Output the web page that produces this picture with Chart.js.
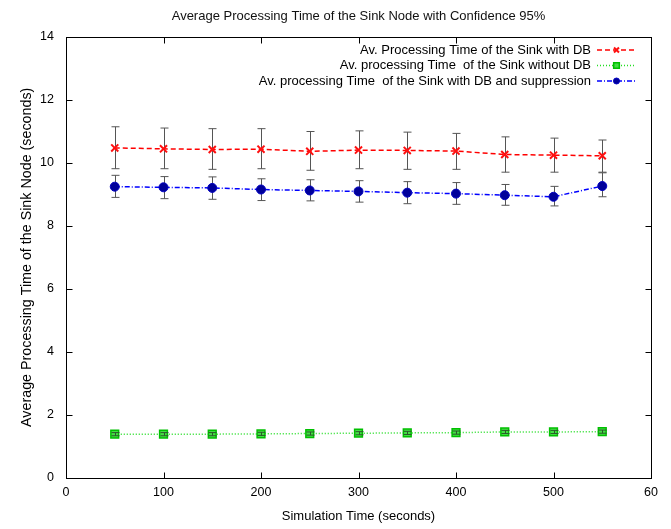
<!DOCTYPE html>
<html>
<head>
<meta charset="utf-8">
<script src="https://cdn.jsdelivr.net/npm/chart.js@4/dist/chart.umd.min.js"></script>
<style>
  html, body { margin: 0; padding: 0; background: #fff; }
  canvas { display: block; }
</style>
</head>
<body>
<canvas id="sinkChart" width="671" height="529"></canvas>
<script>
// Simulation times (x) and tick labels as they appear on the picture
const simTimes = [50, 100, 150, 200, 250, 300, 350, 400, 450, 500, 550];
const xTickLabels = ['0', '100', '200', '300', '400', '500', '60'];

// Av. Processing Time of the Sink with DB
const withDb = [10.47, 10.44, 10.42, 10.43, 10.36, 10.40, 10.39, 10.37, 10.26, 10.24, 10.22];
const withDbLow = [9.81, 9.81, 9.79, 9.81, 9.76, 9.81, 9.79, 9.79, 9.70, 9.70, 9.70];
const withDbHigh = [11.14, 11.10, 11.08, 11.08, 10.99, 11.01, 10.97, 10.93, 10.82, 10.78, 10.72];

// Av. processing Time of the Sink without DB
const withoutDb = [1.39, 1.39, 1.39, 1.40, 1.41, 1.42, 1.43, 1.44, 1.46, 1.46, 1.47];
const withoutDbLow = [1.34, 1.34, 1.34, 1.35, 1.36, 1.37, 1.38, 1.39, 1.41, 1.41, 1.42];
const withoutDbHigh = [1.44, 1.44, 1.44, 1.45, 1.46, 1.47, 1.48, 1.49, 1.51, 1.51, 1.52];

// Av. processing Time of the Sink with DB and suppression
const suppression = [9.24, 9.22, 9.20, 9.15, 9.12, 9.09, 9.05, 9.02, 8.97, 8.92, 9.26];
const suppressionLow = [8.90, 8.86, 8.84, 8.80, 8.79, 8.75, 8.70, 8.68, 8.65, 8.63, 8.92];
const suppressionHigh = [9.60, 9.56, 9.55, 9.49, 9.46, 9.43, 9.40, 9.37, 9.31, 9.25, 9.68];

const FONT = '"Liberation Sans", Arial, Helvetica, sans-serif';
Chart.defaults.font.family = FONT;
Chart.defaults.color = '#000';

function points(ys) {
    return simTimes.map((x, i) => ({ x: x, y: ys[i] }));
}

function drawBars(chart, ds, color) {
    const ctx = chart.ctx;
    const xs = chart.scales.x, ys = chart.scales.y;
    ctx.save();
    ctx.strokeStyle = color;
    ctx.lineWidth = 1;
    ds.low.forEach((lo, i) => {
        const px = Math.round(xs.getPixelForValue(simTimes[i])) + 0.5;
        const y1 = ys.getPixelForValue(lo);
        const y2 = ys.getPixelForValue(ds.high[i]);
        ctx.beginPath();
        ctx.moveTo(px, y1); ctx.lineTo(px, y2);
        ctx.moveTo(px - 4, y1); ctx.lineTo(px + 4, y1);
        ctx.moveTo(px - 4, y2); ctx.lineTo(px + 4, y2);
        ctx.stroke();
    });
    ctx.restore();
}

// Error bars drawn through the chart scales; the tiny green ones sit on top of their squares
const errorBars = {
    id: 'errorBars',
    beforeDatasetsDraw(chart) {
        chart.data.datasets.forEach(ds => { if (!ds.barsOnTop) drawBars(chart, ds, '#555'); });
    },
    afterDatasetsDraw(chart) {
        chart.data.datasets.forEach(ds => { if (ds.barsOnTop) drawBars(chart, ds, '#2a5a2a'); });
    }
};

// Box around the plot with inward ticks on all four sides (gnuplot look)
const frame = {
    id: 'frame',
    afterDraw(chart) {
        const ctx = chart.ctx;
        const a = chart.chartArea;
        const xs = chart.scales.x, ys = chart.scales.y;
        const L = Math.round(a.left) + 0.5, R = Math.round(a.right) + 0.5;
        const T = Math.round(a.top) + 0.5, B = Math.round(a.bottom) + 0.5;
        ctx.save();
        ctx.strokeStyle = '#000';
        ctx.lineWidth = 1;
        ctx.strokeRect(L, T, R - L, B - T);
        ctx.beginPath();
        xs.ticks.forEach(t => {
            const px = Math.round(xs.getPixelForValue(t.value)) + 0.5;
            ctx.moveTo(px, B); ctx.lineTo(px, B - 6);
            ctx.moveTo(px, T); ctx.lineTo(px, T + 6);
        });
        ys.ticks.forEach(t => {
            const py = Math.round(ys.getPixelForValue(t.value)) + 0.5;
            ctx.moveTo(L, py); ctx.lineTo(L + 6, py);
            ctx.moveTo(R, py); ctx.lineTo(R - 6, py);
        });
        ctx.stroke();
        ctx.restore();
    }
};

// Key in the top right corner: right aligned text, line sample on its right
const key = {
    id: 'key',
    afterDraw(chart) {
        const ctx = chart.ctx;
        const textRight = 591, sampleL = 597, sampleR = 636;
        const rows = [50, 65.5, 81];
        ctx.save();
        ctx.font = '13px ' + FONT;
        ctx.textAlign = 'right';
        ctx.textBaseline = 'middle';
        chart.data.datasets.forEach((ds, i) => {
            const y = rows[i];
            ctx.fillStyle = '#000';
            ctx.fillText(ds.label, textRight, y);
            ctx.strokeStyle = ds.borderColor;
            ctx.lineWidth = ds.borderWidth;
            ctx.setLineDash(ds.borderDash);
            ctx.beginPath();
            ctx.moveTo(sampleL, y); ctx.lineTo(sampleR, y);
            ctx.stroke();
            ctx.setLineDash([]);
            ctx.fillStyle = ds.pointBackgroundColor;
            ctx.strokeStyle = ds.pointBorderColor;
            ctx.lineWidth = ds.pointBorderWidth;
            Chart.helpers.drawPoint(ctx, {
                pointStyle: ds.pointStyle,
                radius: ds.pointRadius - 1.5,
                borderWidth: ds.pointBorderWidth
            }, (sampleL + sampleR) / 2, y);
        });
        ctx.restore();
    }
};

new Chart(document.getElementById('sinkChart'), {
    type: 'line',
    data: {
        datasets: [{
            label: 'Av. Processing Time of the Sink with DB',
            data: points(withDb),
            low: withDbLow,
            high: withDbHigh,
            borderColor: '#ff0000',
            borderWidth: 1.5,
            borderDash: [5, 3],
            pointStyle: 'crossRot',
            pointRadius: 5,
            pointBorderWidth: 2,
            pointBorderColor: '#ff1010',
            pointBackgroundColor: '#ff1010'
        }, {
            label: 'Av. processing Time  of the Sink without DB',
            data: points(withoutDb),
            low: withoutDbLow,
            high: withoutDbHigh,
            barsOnTop: true,
            borderColor: '#22dd22',
            borderWidth: 1.5,
            borderDash: [1, 2],
            pointStyle: 'rect',
            pointRadius: 5.5,
            pointBorderWidth: 1.5,
            pointBorderColor: '#00c000',
            pointBackgroundColor: '#44dd44'
        }, {
            label: 'Av. processing Time  of the Sink with DB and suppression',
            data: points(suppression),
            low: suppressionLow,
            high: suppressionHigh,
            borderColor: '#0000ff',
            borderWidth: 1.5,
            borderDash: [5, 2, 1, 2],
            pointStyle: 'circle',
            pointRadius: 4.5,
            pointBorderWidth: 1,
            pointBorderColor: '#0000c0',
            pointBackgroundColor: '#00009a'
        }]
    },
    options: {
        responsive: false,
        animation: false,
        layout: { padding: { left: 0, right: 20, top: 0, bottom: 0 } },
        plugins: {
            legend: { display: false },
            tooltip: { enabled: false },
            title: {
                display: true,
                fullSize: false,
                text: 'Average Processing Time of the Sink Node with Confidence 95%',
                font: { size: 13, weight: 'normal' },
                color: '#111',
                padding: { top: 9, bottom: 12 }
            }
        },
        scales: {
            x: {
                type: 'linear',
                min: 0,
                max: 600,
                grid: { display: false, drawTicks: false },
                border: { display: false },
                ticks: {
                    stepSize: 100,
                    padding: 7,
                    maxRotation: 0,
                    font: { size: 12.5 },
                    callback: (v) => xTickLabels[v / 100]
                },
                title: {
                    display: true,
                    text: 'Simulation Time (seconds)',
                    font: { size: 13 },
                    padding: { top: 0, bottom: 5 }
                },
                afterFit: (s) => { s.height = 51; }
            },
            y: {
                min: 0,
                max: 14,
                grid: { display: false, drawTicks: false },
                border: { display: false },
                ticks: { stepSize: 2, padding: 12, font: { size: 12.5 } },
                title: {
                    display: true,
                    text: 'Average Processing Time of the Sink Node (seconds)',
                    font: { size: 14.3 },
                    padding: { top: 18, bottom: 0 }
                },
                afterFit: (s) => { s.width = 66; }
            }
        }
    },
    plugins: [errorBars, frame, key]
});
</script>
</body>
</html>
